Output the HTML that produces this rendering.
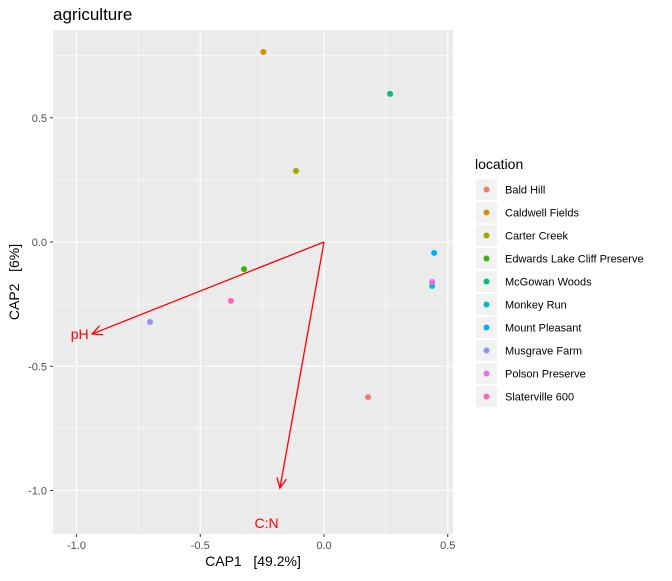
<!DOCTYPE html>
<html><head><meta charset="utf-8"><style>
body{margin:0;background:#fff;}
svg{font-family:"Liberation Sans",sans-serif;}
.pre{white-space:pre;}
</style></head><body>
<svg id="chart" width="672" height="576" xmlns="http://www.w3.org/2000/svg">
<text x="53" y="20" font-size="17" fill="#000">agriculture</text>
<rect x="53" y="30" width="400" height="504" fill="#ebebeb"/>
<g id="grid"></g>
<g id="axes"></g>
<g id="arrows"></g>
<g id="points"></g>
<text class="pre" xml:space="preserve" x="253" y="566" font-size="14" text-anchor="middle" fill="#000">CAP1   [49.2%]</text>
<text class="pre" xml:space="preserve" transform="translate(19,282) rotate(-90)" font-size="14" text-anchor="middle" fill="#000">CAP2   [6%]</text>
<text x="475" y="169" font-size="14" fill="#000">location</text>
<g id="legend"></g>
</svg>
<script>
const sites = ["Bald Hill","Caldwell Fields","Carter Creek","Edwards Lake Cliff Preserve","McGowan Woods","Monkey Run","Mount Pleasant","Musgrave Farm","Polson Preserve","Slaterville 600"];
const colors = ["#F8766D","#D89000","#A3A500","#39B600","#00BF7D","#00BFC4","#00B0F6","#9590FF","#E76BF3","#FF62BC"];
const cap1 = [0.178,-0.245,-0.113,-0.323,0.267,0.437,0.445,-0.703,0.437,-0.376];
const cap2 = [-0.624,0.765,0.286,-0.109,0.596,-0.177,-0.044,-0.322,-0.161,-0.237];
const xTicks = [-1.0,-0.5,0.0,0.5];
const yTicks = [0.5,0.0,-0.5,-1.0];
const xTickLabels = ["-1.0","-0.5","0.0","0.5"];
const yTickLabels = ["0.5","0.0","-0.5","-1.0"];
const arrowNames = ["pH","C:N"];
const arrowX = [-0.937,-0.178];
const arrowY = [-0.37,-0.99];
const labelX = [-0.987,-0.232];
const labelY = [-0.37,-1.13];

const NS="http://www.w3.org/2000/svg";
const X=v=>324+v*247.5, Y=v=>242-v*248.5;
function mk(tag,attrs,parent){const e=document.createElementNS(NS,tag);for(const k in attrs)e.setAttribute(k,attrs[k]);document.getElementById(parent).appendChild(e);return e;}
for(let i=0;i<xTicks.length;i++){
  const l=mk('line',{x1:X(xTicks[i]),x2:X(xTicks[i]),y1:30,y2:534,stroke:'#fff','stroke-width':1.1},'grid');
  
  
  if(i<xTicks.length-1){const m=mk('line',{x1:X((xTicks[i]+xTicks[i+1])/2),x2:X((xTicks[i]+xTicks[i+1])/2),y1:30,y2:534,stroke:'#fff','stroke-width':0.5},'grid');
  
  }
  const t=mk('text',{x:X(xTicks[i]),y:549,'font-size':11,fill:'#4d4d4d','text-anchor':'middle'},'axes');t.textContent=xTickLabels[i];
  
  
  mk('line',{x1:X(xTicks[i]),x2:X(xTicks[i]),y1:534,y2:537,stroke:'#333'},'axes');
}
for(let i=0;i<yTicks.length;i++){
  const l=mk('line',{x1:53,x2:453,y1:Y(yTicks[i]),y2:Y(yTicks[i]),stroke:'#fff','stroke-width':1.1},'grid');
  
  
  if(i<yTicks.length-1){const m=mk('line',{x1:53,x2:453,y1:Y((yTicks[i]+yTicks[i+1])/2),y2:Y((yTicks[i]+yTicks[i+1])/2),stroke:'#fff','stroke-width':0.5},'grid');
  
  }
  const t=mk('text',{x:47,y:Y(yTicks[i])+4,'font-size':11,fill:'#4d4d4d','text-anchor':'end'},'axes');t.textContent=yTickLabels[i];
  
  
  mk('line',{x1:50,x2:53,y1:Y(yTicks[i]),y2:Y(yTicks[i]),stroke:'#333'},'axes');
}
[0.75,-1.25].forEach(v=>{if(Y(v)>30&&Y(v)<534){const m=mk('line',{x1:53,x2:453,y1:Y(v),y2:Y(v),stroke:'#fff','stroke-width':0.5},'grid');

}});
{const m=mk('line',{x1:X(-1.25),x2:X(-1.25),y1:30,y2:534,stroke:'#fff','stroke-width':0.5},'grid');

}
for(let i=0;i<arrowNames.length;i++){
  const x0=X(0),y0=Y(0),x1=X(arrowX[i]),y1=Y(arrowY[i]);
  const a=Math.atan2(y1-y0,x1-x0),h=11,s=0.45;
  const p=`M${x0},${y0}L${x1},${y1}M${x1-h*Math.cos(a-s)},${y1-h*Math.sin(a-s)}L${x1},${y1}L${x1-h*Math.cos(a+s)},${y1-h*Math.sin(a+s)}`;
  const g=mk('path',{d:p,stroke:'#ff0000','stroke-width':1.3,fill:'none'},'arrows');
  
  
  const t=mk('text',{x:X(labelX[i]),y:Y(labelY[i])+5,'font-size':14,fill:'#ff0000','text-anchor':'middle'},'arrows');t.textContent=arrowNames[i];
  
  
}
for(let i=0;i<sites.length;i++){
  const c=mk('circle',{cx:X(cap1[i]),cy:Y(cap2[i]),r:3,fill:colors[i]},'points');
  
  
  const y=179+i*23;
  const k=mk('rect',{x:476,y:y,width:21,height:21,fill:'#f2f2f2'},'legend');
  
  
  mk('circle',{cx:486.5,cy:y+10.5,r:3,fill:colors[i]},'legend');
  const t=mk('text',{x:505,y:y+14.5,'font-size':11,fill:'#000'},'legend');t.textContent=sites[i];
  
  
}
</script>
</body></html>
